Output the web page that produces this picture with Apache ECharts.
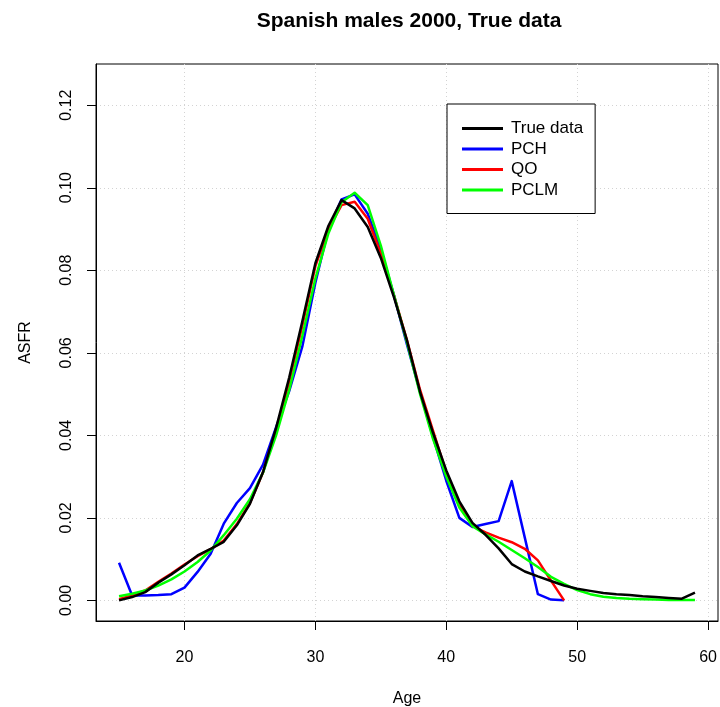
<!DOCTYPE html>
<html>
<head>
<meta charset="utf-8">
<script src="https://cdn.jsdelivr.net/npm/echarts@6.0.0/dist/echarts.min.js"></script>
<style>
  html, body { margin: 0; padding: 0; background: #fff; }
  #chart { width: 720px; height: 707px; }
</style>
</head>
<body>
<div id="chart"></div>
<script>
// ages 15..59 for true data and PCLM, 15..49 for PCH and QO
const agesFull = []
for (let a = 15; a <= 59; a++) agesFull.push(a)
const agesShort = agesFull.filter(a => a <= 49)

const trueData = [
  0.0000, 0.0008, 0.0020, 0.0043, 0.0063, 0.0085, 0.0109, 0.0125, 0.0142, 0.0182,
  0.0234, 0.0311, 0.0418, 0.0540, 0.0676, 0.0817, 0.0908, 0.0970, 0.0950, 0.0905,
  0.0830, 0.0735, 0.0630, 0.0505, 0.0405, 0.0315, 0.0240, 0.0188, 0.0159, 0.0126,
  0.0088, 0.0070, 0.0058, 0.0047, 0.0036, 0.0028, 0.0023, 0.0018, 0.0015, 0.0013,
  0.0010, 0.0008, 0.0006, 0.0004, 0.0019
]
const pchData = [
  0.0091, 0.0012, 0.0012, 0.0013, 0.0015, 0.0031, 0.0069, 0.0113, 0.0186, 0.0236,
  0.0272, 0.0329, 0.0420, 0.0507, 0.0615, 0.0770, 0.0900, 0.0972, 0.0984, 0.0937,
  0.0850, 0.0740, 0.0620, 0.0505, 0.0395, 0.0290, 0.0200, 0.0178, 0.0185, 0.0192,
  0.0289, 0.0152, 0.0015, 0.0002, 0.0000
]
const qoData = [
  0.0003, 0.0012, 0.0024, 0.0045, 0.0065, 0.0087, 0.0107, 0.0124, 0.0145, 0.0185,
  0.0236, 0.0310, 0.0412, 0.0530, 0.0665, 0.0810, 0.0900, 0.0958, 0.0966, 0.0925,
  0.0840, 0.0740, 0.0630, 0.0510, 0.0410, 0.0310, 0.0232, 0.0180, 0.0165, 0.0152,
  0.0141, 0.0125, 0.0097, 0.0048, 0.0000
]
const pclmData = [
  0.0010, 0.0016, 0.0024, 0.0036, 0.0051, 0.0070, 0.0093, 0.0121, 0.0158, 0.0198,
  0.0245, 0.0310, 0.0400, 0.0510, 0.0640, 0.0780, 0.0890, 0.0965, 0.0988, 0.0958,
  0.0860, 0.0740, 0.0625, 0.0500, 0.0390, 0.0300, 0.0225, 0.0180, 0.0160, 0.0142,
  0.0122, 0.0102, 0.0081, 0.0057, 0.0040, 0.0025, 0.0015, 0.0009, 0.0006, 0.0004,
  0.0003, 0.0002, 0.0001, 0.0001, 0.0001
]
const xTicks = [20, 30, 40, 50, 60]
const yTicks = [0, 0.02, 0.04, 0.06, 0.08, 0.10, 0.12]

const font = 'Liberation Sans, Arial, Helvetica, sans-serif'
const pairs = (xs, ys) => xs.map((x, i) => [x, ys[i]])

const chart = echarts.init(document.getElementById('chart'), null, { renderer: 'canvas' })

const mkLine = (name, xs, ys, color) => ({
  name: name,
  type: 'line',
  data: pairs(xs, ys),
  showSymbol: false,
  symbol: 'none',
  lineStyle: { color: color, width: 2.5, join: 'round' },
  itemStyle: { color: color },
  emphasis: { disabled: true }
})

const option = {
  animation: false,
  backgroundColor: '#fff',
  title: {
    text: 'Spanish males 2000, True data',
    left: 404,
    top: 6,
    textAlign: 'center',
    textStyle: { fontFamily: font, fontSize: 21, fontWeight: 'bold', color: '#000' }
  },
  grid: {
    left: 96,
    top: 64,
    width: 622,
    height: 557,
    outerBoundsMode: 'none',
    containLabel: false,
    show: true,
    borderColor: '#000',
    borderWidth: 1,
    backgroundColor: 'transparent'
  },
  legend: {
    data: ['True data', 'PCH', 'QO', 'PCLM'],
    orient: 'vertical',
    left: 447,
    top: 104,
    padding: [16, 12, 15, 15],
    itemGap: 3.5,
    itemWidth: 41,
    itemHeight: 3,
    icon: 'rect',
    borderColor: '#000',
    borderWidth: 1,
    backgroundColor: '#fff',
    textStyle: { fontFamily: font, fontSize: 17, color: '#000', padding: [0, 0, 0, 3] }
  },
  xAxis: {
    type: 'value',
    min: 13.24,
    max: 60.76,
    name: 'Age',
    nameLocation: 'middle',
    nameGap: 70,
    nameTextStyle: { fontFamily: font, fontSize: 16, color: '#000' },
    axisLine: { show: true, onZero: false, lineStyle: { color: '#000', width: 1 } },
    axisTick: { show: true, inside: false, length: 9, customValues: xTicks, lineStyle: { color: '#000' } },
    axisLabel: {
      customValues: xTicks,
      margin: 29,
      fontFamily: font,
      fontSize: 16,
      color: '#000'
    },
    splitLine: { show: true, lineStyle: { color: '#d3d3d3', type: [1, 3], width: 1 } }
  },
  yAxis: {
    type: 'value',
    min: -0.005,
    max: 0.13,
    name: 'ASFR',
    nameLocation: 'middle',
    nameGap: 62,
    nameTextStyle: { fontFamily: font, fontSize: 16, color: '#000' },
    axisLine: { show: true, onZero: false, lineStyle: { color: '#000', width: 1 } },
    axisTick: { show: true, inside: false, length: 9, customValues: yTicks, lineStyle: { color: '#000' } },
    axisLabel: {
      customValues: yTicks,
      rotate: 90,
      margin: 21,
      fontFamily: font,
      fontSize: 16,
      color: '#000',
      formatter: v => v.toFixed(2)
    },
    splitLine: { show: true, lineStyle: { color: '#d3d3d3', type: [1, 3], width: 1 } }
  },
  series: [
    mkLine('PCH', agesShort, pchData, '#0000ff'),
    mkLine('QO', agesShort, qoData, '#ff0000'),
    mkLine('PCLM', agesFull, pclmData, '#00ff00'),
    mkLine('True data', agesFull, trueData, '#000000')
  ]
}

chart.setOption(option)
</script>
</body>
</html>
